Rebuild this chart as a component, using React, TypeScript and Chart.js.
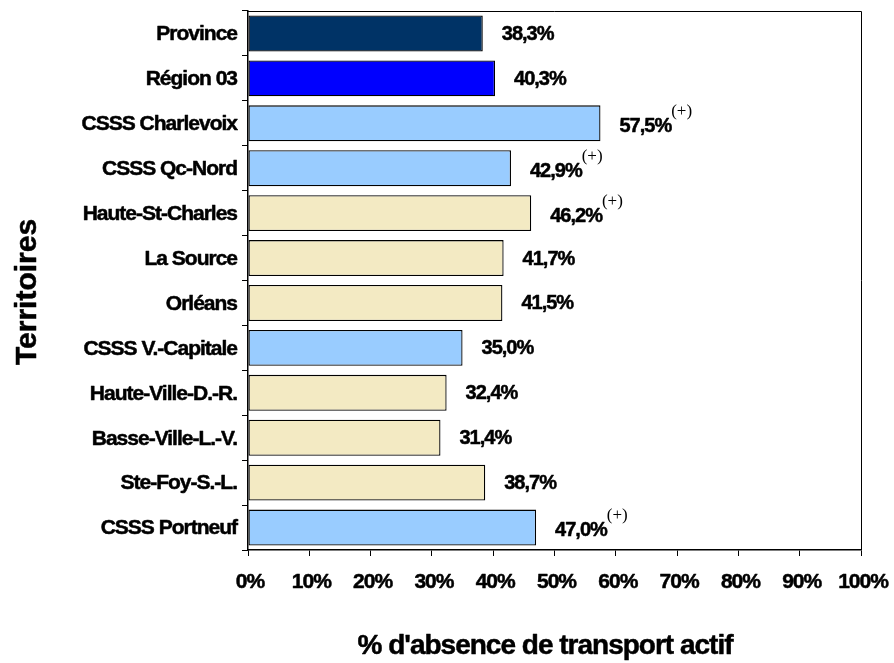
import React, { useEffect, useRef } from "react";
import { Chart, registerables } from "chart.js";

Chart.register(...registerables);

const categories = [
  "Province",
  "Région 03",
  "CSSS Charlevoix",
  "CSSS Qc-Nord",
  "Haute-St-Charles",
  "La Source",
  "Orléans",
  "CSSS V.-Capitale",
  "Haute-Ville-D.-R.",
  "Basse-Ville-L.-V.",
  "Ste-Foy-S.-L.",
  "CSSS Portneuf",
];
const values = [38.3, 40.3, 57.5, 42.9, 46.2, 41.7, 41.5, 35.0, 32.4, 31.4, 38.7, 47.0];
const significant = [false, false, true, true, true, false, false, false, false, false, false, true];
const barColors = [
  "#003366",
  "#0000FF",
  "#99CCFF",
  "#99CCFF",
  "#F3EAC3",
  "#F3EAC3",
  "#F3EAC3",
  "#99CCFF",
  "#F3EAC3",
  "#F3EAC3",
  "#F3EAC3",
  "#99CCFF",
];
const xTitle = "% d'absence de transport actif";
const yTitle = "Territoires";

const SANS = '"Liberation Sans", Arial, sans-serif';
const SERIF = '"Liberation Serif", "Times New Roman", serif';

export default function App() {
  const ref = useRef<HTMLCanvasElement | null>(null);

  useEffect(() => {
    if (!ref.current) return;
    const heavy = (ctx: CanvasRenderingContext2D, t: string, x: number, y: number) => {
      ctx.fillText(t, x, y);
      ctx.strokeText(t, x, y);
    };
    const textPlugin = {
      id: "customText",
      afterDraw(chart: any) {
        const ctx = chart.ctx as CanvasRenderingContext2D;
        const area = chart.chartArea;
        const xs = chart.scales.x;
        const ys = chart.scales.y;
        ctx.save();
        // top and right frame
        ctx.strokeStyle = "#000";
        ctx.lineWidth = 1;
        ctx.beginPath();
        ctx.moveTo(area.left, area.top + 0.5);
        ctx.lineTo(area.right + 0.5, area.top + 0.5);
        ctx.lineTo(area.right + 0.5, area.bottom);
        ctx.stroke();

        ctx.fillStyle = "#000";
        ctx.lineWidth = 0.5;
        ctx.lineJoin = "round";
        // y labels
        (ctx as any).letterSpacing = "-1px";
        ctx.font = `bold 21px ${SANS}`;
        ctx.textAlign = "right";
        ctx.textBaseline = "middle";
        categories.forEach((c, i) => {
          const y = ys.getPixelForValue(i);
          heavy(ctx, c, 237, y + 1);
        });

        // value labels
        ctx.textAlign = "left";
        categories.forEach((c, i) => {
          const y = ys.getPixelForValue(i);
          const x = xs.getPixelForValue(values[i]) + 19;
          const txt = values[i].toFixed(1).replace(".", ",") + "%";
          const ly = significant[i] ? y + 3 : y + 1;
          ctx.font = `bold 20px ${SANS}`;
          (ctx as any).letterSpacing = "-1px";
          heavy(ctx, txt, x, ly);
          const w = ctx.measureText(txt).width;
          if (significant[i]) {
            ctx.font = `17px ${SERIF}`;
            (ctx as any).letterSpacing = "0px";
            ctx.fillText("(+)", x + w, ly - 15);
          }
        });

        // x tick labels
        ctx.font = `bold 21px ${SANS}`;
        (ctx as any).letterSpacing = "-1px";
        ctx.textAlign = "center";
        xs.ticks.forEach((t: any) => {
          const x = xs.getPixelForValue(t.value);
          heavy(ctx, t.value + "%", x + 2, 582);
        });

        // x title
        ctx.font = `bold 28px ${SANS}`;
        (ctx as any).letterSpacing = "-1px";
        heavy(ctx, xTitle, 545, 646);

        // y title
        ctx.save();
        ctx.translate(28, 292);
        ctx.rotate(-Math.PI / 2);
        ctx.font = `bold 30px ${SANS}`;
        (ctx as any).letterSpacing = "0px";
        heavy(ctx, yTitle, 0, 0);
        ctx.restore();

        ctx.restore();
      },
    };

    const chart = new Chart(ref.current, {
      type: "bar",
      data: {
        labels: categories,
        datasets: [
          {
            data: values,
            backgroundColor: barColors,
            borderColor: "#000",
            borderWidth: 1.3,
            borderSkipped: false,
            barPercentage: 0.8,
            categoryPercentage: 1,
          },
        ],
      },
      options: {
        indexAxis: "y",
        responsive: false,
        animation: false,
        devicePixelRatio: 1,
        layout: { padding: { top: 11, right: 33, left: 0, bottom: 0 } },
        plugins: {
          legend: { display: false },
          tooltip: { enabled: false },
          title: { display: false },
        },
        scales: {
          x: {
            type: "linear",
            min: 0,
            max: 100,
            ticks: { stepSize: 10, display: false },
            grid: {
              drawOnChartArea: false,
              drawTicks: true,
              tickLength: 6,
              color: "#000",
              lineWidth: 1,
            },
            border: { display: true, color: "#000", width: 1.5 },
            afterFit: (s: any) => {
              s.height = 663 - 550;
            },
          },
          y: {
            type: "category",
            ticks: { display: false },
            grid: {
              offset: true,
              drawOnChartArea: false,
              drawTicks: true,
              tickLength: 6,
              color: "#000",
              lineWidth: 1,
            },
            border: { display: true, color: "#000", width: 1.5 },
            afterFit: (s: any) => {
              s.width = 248;
            },
          },
        },
      },
      plugins: [textPlugin],
    });
    return () => chart.destroy();
  }, []);

  return (
    <div style={{ position: "absolute", left: 0, top: 0, width: 894, height: 663, background: "#fff" }}>
      <canvas ref={ref} width={894} height={663} style={{ width: 894, height: 663, display: "block" }} />
    </div>
  );
}
